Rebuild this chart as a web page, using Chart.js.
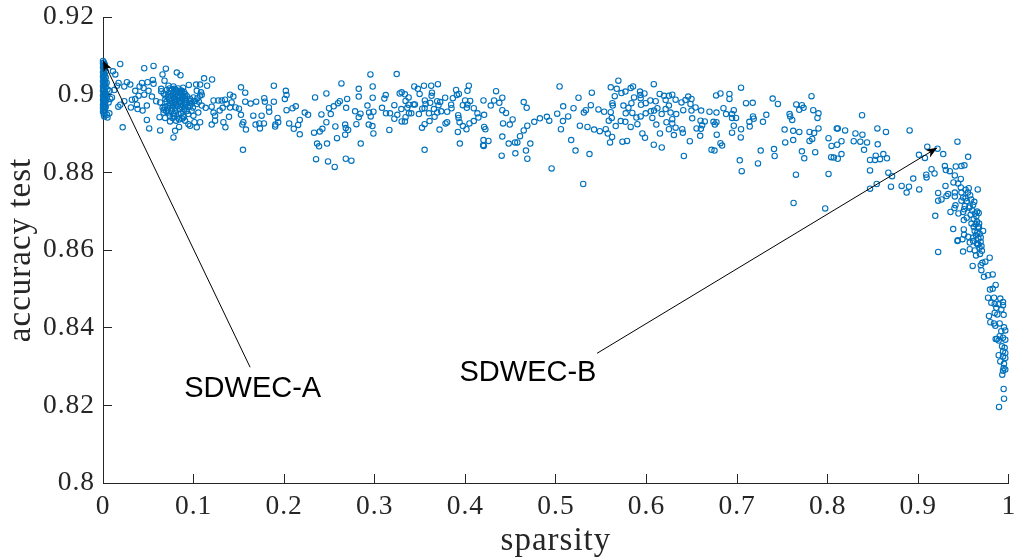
<!DOCTYPE html>
<html>
<head>
<meta charset="utf-8">
<script src="https://cdn.jsdelivr.net/npm/chart.js@4/dist/chart.umd.js"></script>
<style>
  html, body { margin: 0; padding: 0; background: #fff; }
  canvas { display: block; }
</style>
</head>
<body>
<canvas id="chart" width="1014" height="558"></canvas>
<script>
// values, [sparsity, accuracy], split by region of the cloud
const nearZero = [[0,.9087],[.001,.9083],[0,.908],[.002,.9078],[.001,.9074],[0,.907],[.002,.9068],[.001,.9064],[.003,.906],[0,.9058],[.001,.9054],[.002,.905],[0,.9047],[.003,.9044],[.001,.904],[.002,.9037],[0,.9034],[.004,.9031],[.001,.9028],[.002,.9025],[0,.9022],[.003,.9019],[.001,.9016],[.005,.9013],[0,.901],[.002,.9007],[.001,.9004],[.003,.9001],[0,.8998],[.002,.8995],[.004,.8992],[.001,.8989],[0,.8986],[.003,.8983],[.001,.898],[.002,.8977],[0,.8974],[.001,.8971],[.003,.8968],[0,.8965],[.002,.8962],[.001,.8959],[0,.8956],[.0015,.8953],[.001,.8948],[.0015,.8944],[.005,.8941],[.0045,.8948],[.007,.8952],[.0005,.9015],[.0015,.9005],[.002,.8998],[.0005,.8992],[.0025,.8988],[.0015,.8982],[.0005,.8976],[.002,.897],[.0012,.9012],[.0025,.9029],[.0008,.9042]];

const leftBand = [[.019,.9079],[.011,.906],[.0136,.9052],[.0455,.9068],[.0558,.9074],[.0694,.9067],[.0657,.9052],[.0815,.9057],[.0855,.905],[.1116,.9042],[.1204,.9039],[.0947,.9025],[.1028,.9026],[.1072,.9026],[.1149,.9023],[.1523,.9019],[.157,.9005],[.1886,.9023],[.2018,.901],[.2026,.8999],[.2007,.8989],[.2341,.8993],[.2466,.9003],[.0217,.8916],[.051,.8913],[.0484,.8935],[.0631,.8908],[.0778,.889],[.0796,.8907],[.084,.8917],[.1545,.8858],[.2352,.8834],[.2385,.8867],[.2363,.8874],[.2484,.8828],[.2558,.8814],[.2473,.8874],[.2583,.8888],[.233,.8902],[.2393,.8905],[.2422,.8912],[.2466,.8929],[.2565,.8918],[.2411,.8949],[.2514,.895],[.2594,.8978],[.2547,.897],[.2495,.8965],
[.0172,.903],[.0264,.9032],[.0301,.9026],[.0235,.9021],[.0125,.9012],[.0356,.901],[.0404,.9021],[.043,.903],[.0492,.9032],[.055,.9038],[.0558,.9028],[.0448,.9017],[.0503,.901],[.0393,.8997],[.0356,.8989],[.0319,.8987],[.0235,.8983],[.0191,.8974],[.0169,.8969],[.0308,.8967],[.0374,.8974],[.0382,.8963],[.0437,.8959],[.0484,.8972],[.0081,.8989],[.0062,.898],[.0099,.8993],[.0073,.901],[.0154,.9023],[.0455,.9],[.054,.8995],[.0587,.8983],[.0631,.898],[.0642,.9015],[.0679,.9036],[.0723,.9023],[.0778,.9021],[.0723,.9003],[.0778,.9006],[.0815,.901],[.087,.901],[.0899,.8997],[.0833,.8997],[.0796,.8989],[.076,.8985],[.0723,.8972],[.076,.8967],[.0796,.8966],[.0851,.8985],[.0906,.898],[.0962,.8989],[.0998,.8993],[.1072,.8997],[.1035,.901],[.109,.9],[.1035,.8976],[.109,.8972],[.0962,.8972],[.0906,.8967],[.0668,.8954],[.0723,.8954],[.0778,.895],[.0833,.895],[.0888,.8946],[.0942,.895],[.0998,.8946],[.1052,.8954],[.0624,.8942],[.0686,.894],[.074,.8931],[.0807,.8933],[.0906,.8933],[.0943,.8924],[.0962,.892],[.1035,.8916],[.1072,.8929],[.1009,.8929],[.12,.8923],[.122,.8985],[.1273,.8985],[.131,.8985],[.1347,.8987],[.12,.8969],[.1134,.8966],[.122,.8954],[.1237,.8946],[.1237,.8933],[.1329,.8929],[.1351,.8916],[.1391,.8943],[.1288,.8959],[.1321,.8966],[.1365,.8976],[.1402,.8967],[.1439,.8995],[.1402,.9],[.142,.898],[.1464,.8967],[.1501,.8964],[.1523,.8948],[.1549,.8929],[.1538,.8923],[.1578,.891],[.157,.8982],[.1629,.8977],[.1691,.8982],[.1659,.8946],[.1751,.8946],[.1684,.8923],[.1725,.8926],[.1732,.8913],[.1776,.8926],[.178,.8991],[.1787,.8982],[.1831,.8967],[.1835,.8956],[.1886,.8982],[.1927,.894],[.1934,.8929],[.1903,.8923],[.19,.8918],[.2055,.8926],[.2106,.8912],[.2154,.8922],[.2172,.8935],[.2172,.8898],[.2026,.896],[.2092,.8965],[.2128,.897],[.2227,.8954],[.2264,.8948]];

const denseCluster = [[.0642,.9009],[.067,.9003],[.069,.8998],[.0705,.9012],[.0735,.9016],[.0748,.9009],[.0762,.9013],[.0771,.9001],[.0788,.9015],[.0795,.8998],[.0803,.9012],[.0812,.9003],[.0824,.8993],[.0831,.9016],[.0842,.9006],[.0848,.8992],[.0856,.9011],[.0863,.9002],[.0871,.8987],[.0879,.8996],[.0884,.9018],[.0893,.9007],[.0901,.8991],[.0908,.9001],[.0915,.8986],[.0926,.8996],[.0688,.8989],[.0702,.8982],[.0716,.8994],[.0729,.8987],[.0742,.8978],[.0751,.8996],[.0765,.8979],[.0773,.8973],[.0782,.8992],[.0791,.8981],[.0805,.8975],[.0818,.8987],[.0827,.8971],[.0838,.8981],[.0846,.8963],[.0858,.8977],[.0867,.8968],[.0882,.8972],[.0896,.8962],[.0911,.8975],[.0924,.8958],[.0938,.8968],[.0952,.8979],[.0968,.8984],[.0981,.8977],[.0658,.8966],[.0671,.8961],[.0684,.8968],[.0698,.8958],[.0712,.8962],[.0738,.8945],[.0756,.8958],[.0768,.894],[.0784,.8944],[.0799,.8957],[.0822,.8941],[.0841,.8936],[.0862,.8952],[.0875,.8938],[.0892,.8942],[.0978,.8958],[.0992,.8967],[.1015,.8984],[.1042,.8991],[.1058,.8982],[.1082,.9006]];

const middleBand = [[.2952,.9052],[.3242,.9053],[.2632,.9029],[.2823,.9015],[.2977,.9021],[.2823,.8995],[.2977,.8992],[.2695,.8989],[.2614,.8983],[.2684,.8966],[.2783,.8957],[.2842,.8951],[.2823,.8942],[.2919,.8972],[.2937,.8954],[.2985,.8956],[.2955,.8944],[.2797,.8924],[.2673,.8923],[.268,.8914],[.2706,.8909],[.2673,.8897],[.2933,.8923],[.2974,.8919],[.2985,.89],[.2845,.8874],[.268,.8835],[.2742,.883],[.3161,.8909],[.308,.8966],[.3106,.899],[.3121,.8999],[.3124,.8952],[.3168,.8952],[.3216,.8973],[.3216,.8938],[.3249,.8948],[.3293,.8963],[.3275,.9003],[.3297,.9006],[.3333,.9001],[.3374,.8993],[.3436,.9021],[.3476,.9015],[.3495,.9002],[.3543,.9023],[.3623,.9023],[.3697,.9027],[.3631,.9005],[.3627,.8997],[.334,.8984],[.3359,.8966],[.3374,.8974],[.3429,.8975],[.3443,.8975],[.3377,.8952],[.3403,.8952],[.3487,.895],[.334,.8942],[.3297,.8931],[.3333,.8931],[.3524,.8964],[.3553,.8985],[.3561,.8976],[.3612,.8979],[.355,.8965],[.3598,.8952],[.3689,.8983],[.3722,.8981],[.3704,.8973],[.3653,.8963],[.3689,.8954],[.366,.8943],[.3733,.8957],[.3799,.8956],[.3847,.8965],[.3843,.8974],[.3777,.8992],[.3862,.8991],[.3898,.9012],[.3906,.8999],[.3928,.9002],[.4023,.901],[.4038,.9023],[.3997,.8985],[.4053,.8984],[.3972,.8973],[.4023,.8975],[.4016,.8966],[.4093,.8965],[.3921,.8947],[.3925,.894],[.3936,.8929],[.3972,.8919],[.4045,.8926],[.4093,.8932],[.4133,.8952],[.4144,.8941],[.4207,.8948],[.42,.8985],[.428,.8972],[.4317,.8985],[.4339,.9009],[.4408,.8992],[.4375,.8979],[.4408,.896],[.4449,.8953],[.4522,.8936],[.4416,.8926],[.449,.8923],[.4207,.8917],[.4221,.8911],[.4012,.8911],[.3917,.8904],[.3715,.891],[.3521,.8915],[.355,.8924],[.3605,.8932],[.3781,.8926],[.3799,.8929],[.3939,.8874],[.355,.8858],[.42,.8883],[.4255,.8881],[.4196,.887],[.4203,.8868],[.4408,.8892],[.4478,.8874],[.4548,.8877],[.4574,.8877],[.4603,.8893],[.4644,.8908],[.4684,.892],[.4761,.893],[.4823,.8939],[.49,.8943],[.4926,.8933],[.5014,.8951],[.504,.9021],[.4644,.8981],[.4677,.8966],[.4717,.8874],[.4669,.8856],[.4552,.8849],[.4401,.8843],[.4684,.8835],[.4952,.881],[.5301,.877],[.5077,.8932],[.5055,.8911],[.508,.897],[.5135,.8944],[.5194,.8965],[.5249,.8992],[.5396,.9005],[.5385,.8973],[.533,.896],[.5308,.8954],[.5264,.892],[.5348,.8917],[.5421,.891],[.5484,.8906],[.555,.8911],[.5572,.89],[.562,.8891],[.5597,.8877],[.5734,.8879],[.5785,.8881],[.5168,.8883],[.5216,.8856],[.537,.8847],[.5469,.8962],[.5532,.8956],[.5605,.8955],[.5583,.8933],[.5616,.894],[.566,.8919],[.5715,.8932],[.5766,.893],[.5825,.8917],[.5899,.8924],[.5888,.8941],[.5605,.9019],[.5689,.9036],[.5671,.9015],[.5723,.9004],[.5767,.9008],[.5649,.8996],[.5623,.8978],[.5627,.8972],[.5745,.8972],[.58,.8966],[.5833,.8978],[.5862,.8993],[.5825,.9017],[.5851,.9021],[.5928,.9008],[.608,.9027],[.5977,.9003],[.5932,.8999],[.5935,.8991],[.5939,.8974],[.5991,.8978],[.6042,.8985],[.577,.8952],[.5843,.8953],[.5935,.8944],[.5991,.8952],[.6047,.8957],[.6083,.8959],[.612,.8965],[.6167,.895],[.6064,.894],[.6108,.8923],[.622,.8929],[.6284,.8926],[.6321,.8915],[.6247,.8911],[.5954,.89],[.5983,.8889],[.608,.8871],[.6168,.8864],[.6148,.89],[.6302,.8896],[.6145,.9002],[.6193,.8997],[.6247,.8997],[.6284,.9],[.6321,.8987],[.6101,.8983],[.6211,.8986],[.6247,.8972],[.6211,.8963],[.6265,.8954],[.6328,.895],[.6284,.8937]];

const rightBand = [[.7043,.9018],[.6915,.9002],[.6915,.8989],[.6816,.9003],[.6768,.8998],[.646,.8995],[.6386,.898],[.643,.8986],[.6496,.8989],[.6485,.8976],[.6541,.8967],[.6405,.896],[.6496,.8959],[.6603,.8959],[.6695,.8956],[.6772,.8954],[.6849,.8965],[.6963,.896],[.6878,.895],[.6944,.895],[.6988,.894],[.6944,.894],[.7098,.8978],[.7172,.8979],[.7392,.899],[.745,.8976],[.7653,.8975],[.7715,.8973],[.7686,.8961],[.7733,.8966],[.7821,.8996],[.784,.896],[.7898,.8952],[.7887,.894],[.7579,.895],[.7586,.8944],[.7608,.8935],[.7322,.8948],[.7285,.893],[.7175,.8944],[.7183,.8938],[.7135,.893],[.7139,.8918],[.6963,.892],[.7043,.8911],[.6944,.8902],[.704,.889],[.6772,.8929],[.6739,.893],[.6754,.8923],[.6643,.8931],[.6596,.8933],[.6504,.8939],[.6614,.8921],[.6552,.8913],[.66,.8912],[.6394,.8911],[.6401,.8902],[.6592,.8894],[.6775,.8897],[.6478,.888],[.6816,.8875],[.6834,.8869],[.6717,.8858],[.675,.8856],[.6412,.8842],[.726,.8856],[.7407,.886],[.7414,.8842],[.7029,.8831],[.723,.8823],[.7051,.8803],[.7524,.891],[.7619,.8907],[.7686,.8904],[.7799,.8904],[.785,.8901],[.7898,.8913],[.7531,.8877],[.7619,.8883],[.7799,.8881],[.7829,.8886],[.7715,.8854],[.7741,.8836],[.7862,.8852],[.7649,.8794],[.7623,.8721],[.7972,.8707],[.8009,.8796],[.8009,.8888],[.8042,.8868],[.8104,.8871],[.8152,.888],[.81,.8913],[.8111,.8913],[.8192,.8908],[.8306,.89],[.8383,.8897],[.8287,.888],[.836,.8879],[.8434,.8877],[.8401,.8858],[.8379,.8947],[.8548,.8913],[.8643,.8904],[.8904,.8908],[.8552,.8872],[.8038,.8839],[.8067,.8838],[.8111,.8835],[.8152,.8847],[.8467,.8832],[.853,.8843],[.8522,.8832],[.8577,.8834],[.8614,.8847],[.8654,.8836],[.8467,.8805],[.8669,.8799],[.871,.879],[.8541,.877],[.8467,.8758],[.8698,.8763],[.8816,.8765],[.8897,.8763],[.8871,.8748],[.8944,.8784],[.901,.8756],[.9007,.8845],[.9073,.8837],[.9099,.8866],[.9212,.8861],[.9275,.8847],[.9432,.8879],[.955,.884]];

const fallingTail = [[.9414,.8815],[.9476,.8816],[.9509,.8818],[.9293,.8816],[.9304,.8806],[.9348,.8803],[.9403,.8792],[.9146,.8808],[.9087,.8794],[.9091,.8787],[.9179,.8797],[.9388,.8774],[.9469,.8783],[.944,.8771],[.9469,.8761],[.93,.8765],[.9557,.8759],[.9656,.8756],[.9219,.8747],[.933,.8744],[.9311,.8739],[.9403,.8748],[.9403,.8738],[.9476,.8748],[.9495,.8735],[.9521,.8733],[.9219,.8727],[.9256,.873],[.9476,.8727],[.9605,.8716],[.941,.8715],[.9399,.8708],[.9513,.8713],[.9568,.8712],[.9506,.8705],[.9649,.8699],[.9667,.8695],[.9355,.8698],[.9443,.8694],[.9495,.8698],[.9187,.8688],[.9535,.8683],[.9502,.8677],[.9587,.8668],[.9671,.8668],[.9385,.8654],[.9502,.8653],[.9612,.8659],[.966,.866],[.9715,.8649],[.9678,.8642],[.9506,.8639],[.955,.8634],[.9605,.8632],[.9689,.8632],[.9436,.8625],[.9487,.8628],[.9568,.8619],[.9605,.8623],[.966,.8615],[.9697,.861],[.9219,.8595],[.9494,.8596],[.9432,.8623],[.9568,.8602],[.9659,.8614],[.9623,.8599],[.9681,.859],[.9637,.8586],[.9788,.858],[.974,.857],[.9707,.8567],[.9689,.8561],[.96,.8559],[.9696,.8548],[.9821,.8537],[.977,.8535],[.9725,.8531],[.9854,.851],[.9821,.85],[.9791,.8498],[.977,.8477],[.9836,.8477],[.9905,.8475],[.9935,.8466],[.9806,.8464],[.9843,.8461],[.9887,.846],[.9935,.8458],[.9861,.8451],[.9916,.8447],[.9843,.8438],[.9872,.8434],[.9942,.8433],[.978,.843],[.9835,.8411],[.985,.8405],[.9795,.8414],[.9898,.8411],[.9946,.8401],[.9916,.8391],[.996,.8393],[.9898,.8378],[.9869,.8371],[.9854,.8371],[.9887,.8367],[.9935,.8374],[.996,.8369],[.9924,.8352],[.9953,.8348],[.9935,.8339],[.996,.8335],[.9887,.8329],[.9935,.8326],[.996,.8322],[.9905,.8313],[.9946,.8307],[.9942,.8296],[.996,.8292],[.9935,.8289],[.9927,.8279],[.9942,.8242],[.9946,.8217],[.9891,.8196],
[.9522,.8755],[.9548,.8748],[.9572,.8741],[.9536,.8726],[.9584,.873],[.9618,.8724],[.9561,.8709],[.9594,.8702],[.9626,.8694],[.9641,.8687],[.9578,.8691],[.9612,.868],[.9648,.8673],[.9633,.8666],[.9669,.8658],[.9622,.8649],[.9651,.8645],[.9637,.8638],[.9663,.8629],[.9688,.8621],[.9645,.8617],[.9676,.8606],[.9702,.8598]];

const xTicks = [0, .1, .2, .3, .4, .5, .6, .7, .8, .9, 1];
const yTicks = [.8, .82, .84, .86, .88, .9, .92];
const xName = "sparsity";
const yName = "accuracy test";

// [label, label x, label y, arrow tail x, tail y, tip x, tip y], data units
const callouts = [
  ["SDWEC-A", .0897, .8241, .1624, .8298, 0, .9088],
  ["SDWEC-B", .3935, .8283, .5454, .8334, .9208, .8863],
];

const ink = "#262626";
const serif = "'Liberation Serif', serif";

const points = [...nearZero, ...leftBand, ...denseCluster, ...middleBand, ...rightBand, ...fallingTail]
  .map(([x, y]) => ({ x, y }));

// arrows and their labels go on top of the data
const calloutPlugin = {
  id: "callouts",
  beforeDraw(chart) {
    chart.ctx.letterSpacing = "1px";
  },
  afterDatasetsDraw(chart) {
    const { ctx, scales: { x, y } } = chart;
    ctx.save();
    ctx.letterSpacing = "0px";
    ctx.strokeStyle = "#000";
    ctx.fillStyle = "#000";
    ctx.lineWidth = 1;
    for (const [label, lx, ly, x0, y0, x1, y1] of callouts) {
      const sx = x.getPixelForValue(x0), sy = y.getPixelForValue(y0);
      const ex = x.getPixelForValue(x1), ey = y.getPixelForValue(y1);
      ctx.beginPath();
      ctx.moveTo(sx, sy);
      ctx.lineTo(ex, ey);
      ctx.stroke();
      const a = Math.atan2(ey - sy, ex - sx);
      ctx.save();
      ctx.translate(ex, ey);
      ctx.rotate(a);
      ctx.beginPath();
      ctx.moveTo(0, 0);
      ctx.lineTo(-11, -4.5);
      ctx.lineTo(-8, 0);
      ctx.lineTo(-11, 4.5);
      ctx.closePath();
      ctx.fill();
      ctx.restore();
      ctx.font = "29px 'Liberation Sans', Arial, sans-serif";
      ctx.textAlign = "left";
      ctx.textBaseline = "middle";
      ctx.fillText(label, x.getPixelForValue(lx), y.getPixelForValue(ly));
    }
    ctx.restore();
  },
};

new Chart(document.getElementById("chart"), {
  type: "scatter",
  data: {
    datasets: [{
      data: points,
      pointStyle: "circle",
      pointRadius: 2.7,
      pointBorderWidth: 1.1,
      pointBorderColor: "#0072BD",
      pointBackgroundColor: "rgba(0,0,0,0)",
      clip: false,
    }],
  },
  options: {
    responsive: false,
    animation: false,
    layout: { padding: { top: 17, right: 3 } },
    plugins: { legend: { display: false }, tooltip: { enabled: false } },
    scales: {
      x: {
        type: "linear",
        min: 0,
        max: 1,
        afterBuildTicks: (s) => { s.ticks = xTicks.map((value) => ({ value })); },
        afterFit: (s) => { s.height = 75; s.paddingRight = 0; s.paddingLeft = 0; },
        grid: { drawOnChartArea: false, tickLength: -9, color: ink, lineWidth: 1 },
        border: { color: ink, width: 1 },
        ticks: { color: ink, padding: 16, maxRotation: 0, autoSkip: false, font: { family: serif, size: 27.5 }, callback: (v) => String(v) },
        title: { display: true, text: xName, color: ink, padding: { top: 0, bottom: -3 }, font: { family: serif, size: 33 } },
      },
      y: {
        type: "linear",
        min: .8,
        max: .92,
        afterBuildTicks: (s) => { s.ticks = yTicks.map((value) => ({ value })); },
        afterFit: (s) => { s.width = 103; s.paddingTop = 0; s.paddingBottom = 0; },
        grid: { drawOnChartArea: false, tickLength: -9, color: ink, lineWidth: 1 },
        border: { color: ink, width: 1 },
        ticks: { color: ink, padding: 17, autoSkip: false, font: { family: serif, size: 27.5 }, callback: (v) => String(v) },
        title: { display: true, text: yName, color: ink, padding: { top: 2, bottom: 0 }, font: { family: serif, size: 33 } },
      },
    },
  },
  plugins: [calloutPlugin],
});
</script>
</body>
</html>
